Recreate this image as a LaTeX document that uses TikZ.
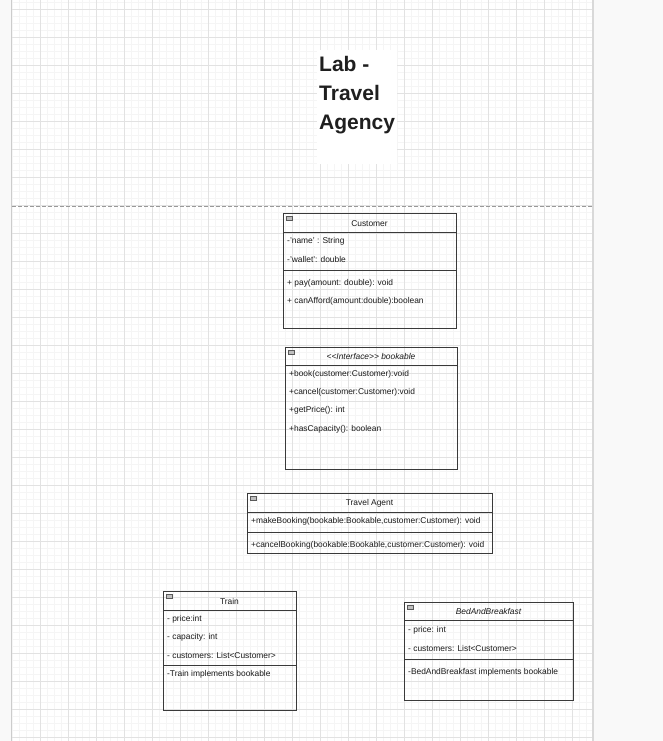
\documentclass[tikz,border=0pt]{standalone}
\usepackage{fontspec}
\setmainfont{Liberation Sans}
\usetikzlibrary{calc}
\definecolor{margin}{HTML}{F9F9F9}
\definecolor{gridminor}{HTML}{F5F5F5}
\definecolor{gridmajor}{HTML}{E2E2E2}
\definecolor{umlline}{HTML}{3A3A3A}
\tikzset{
	member/.style={anchor=west, inner sep=0pt, yshift=-0.8pt, text=black!90, font=\fontsize{8.4}{10}\selectfont},
	header/.style={inner sep=0pt, yshift=-0.8pt, text=black!90, font=\fontsize{8.4}{10}\selectfont},
	umlbox/.style={draw=umlline, line width=0.8pt},
	titletext/.style={anchor=base west, inner sep=0pt, text=black!88, font=\fontsize{21}{28}\selectfont\bfseries},
}
\def\foldicon(#1,#2){\draw[fill=black!25, draw=black!65, line width=0.6pt] ($(#1,#2)+(3,3)$) rectangle ($(#1,#2)+(9,7.5)$);}

\begin{document}
\begin{tikzpicture}[x=1pt,y=-1pt]
			%%%%% START %%%%%
			\useasboundingbox (0,0) rectangle (663,741);
			
			% page and margins
			\fill[white] (0,0) rectangle (663,741);
			\fill[margin] (0,0) rectangle (11.5,741);
			\fill[margin] (592.5,0) rectangle (663,741);
			\draw[black!20, line width=0.8pt] (11.5,0) -- (11.5,741);
			\draw[black!15, line width=1.2pt] (593,0) -- (593,741);
			
			% grid
			\foreach \gx in {12,19,...,592} \draw[gridminor, line width=0.6pt] (\gx,0) -- (\gx,741);
			\foreach \gy in {2,9,...,741} \draw[gridminor, line width=0.6pt] (12,\gy) -- (592,\gy);
			\foreach \gx in {40,68,...,592} \draw[gridmajor, line width=0.6pt] (\gx,0) -- (\gx,741);
			\foreach \gy in {9,37,...,741} \draw[gridmajor, line width=0.6pt] (12,\gy) -- (592,\gy);
			
			% page break
			\draw[black!40, line width=0.8pt, dash pattern=on 4pt off 2pt] (12,206) -- (592,206);
			
			% title
			\fill[white] (317,50) rectangle (397,164);
			\node[titletext] (title1) at (319,72) {Lab -};
			\node[titletext] (title2) at (319,101) {Travel};
			\node[titletext] (title3) at (319,129.5) {Agency};
			
			% Customer
			\draw[umlbox] (283,213) rectangle (456,328);
			\draw[umlbox] (283,232) -- (456,232);
			\draw[umlbox] (283,270.5) -- (456,270.5);
			\foldicon(283,213)
			\node[header] (customer) at (369.5,223) {Customer};
			\node[member] (customername) at (287,241) {-'name' : String};
			\node[member] (customerwallet) at (287,259) {-'wallet': double};
			\node[member] (customerpay) at (287,283) {+ pay(amount: double): void};
			\node[member] (customerafford) at (287,301) {+ canAfford(amount:double):boolean};
			
			% bookable
			\draw[umlbox] (285,347) rectangle (457,469);
			\draw[umlbox] (285,365.5) -- (457,365.5);
			\foldicon(285,347)
			\node[header, font=\fontsize{8.4}{10}\selectfont\itshape] (bookable) at (371,356) {<{}<Interface>{}> bookable};
			\node[member] (bookablebook) at (289,374) {+book(customer:Customer):void};
			\node[member] (bookablecancel) at (289,392) {+cancel(customer:Customer):void};
			\node[member] (bookableprice) at (289,410) {+getPrice(): int};
			\node[member] (bookablecapacity) at (289,429) {+hasCapacity(): boolean};
			
			% Travel Agent
			\draw[umlbox] (247,493) rectangle (492,553);
			\draw[umlbox] (247,512) -- (492,512);
			\draw[umlbox] (247,532) -- (492,532);
			\foldicon(247,493)
			\node[header] (agent) at (369.5,503) {Travel Agent};
			\node[member] (agentmake) at (251,521) {+makeBooking(bookable:Bookable,customer:Customer): void};
			\node[member] (agentcancel) at (251,545) {+cancelBooking(bookable:Bookable,customer:Customer): void};
			
			% Train
			\draw[umlbox] (163,591) rectangle (296,710);
			\draw[umlbox] (163,610) -- (296,610);
			\draw[umlbox] (163,665) -- (296,665);
			\foldicon(163,591)
			\node[header] (train) at (229.5,601) {Train};
			\node[member] (trainprice) at (167,619) {- price:int};
			\node[member] (traincapacity) at (167,637) {- capacity: int};
			\node[member] (traincustomers) at (167,655) {- customers: List<Customer>};
			\node[member] (trainimpl) at (167,674) {-Train implements bookable};
			
			% BedAndBreakfast
			\draw[umlbox] (404,602) rectangle (573,700);
			\draw[umlbox] (404,620.5) -- (573,620.5);
			\draw[umlbox] (404,659) -- (573,659);
			\foldicon(404,602)
			\node[header, font=\fontsize{8.4}{10}\selectfont\itshape] (bnb) at (488.5,611) {BedAndBreakfast};
			\node[member] (bnbprice) at (408,630) {- price: int};
			\node[member] (bnbcustomers) at (408,648) {- customers: List<Customer>};
			\node[member] (bnbimpl) at (408,672) {-BedAndBreakfast implements bookable};
			
			%%%%% END %%%%%
		\end{tikzpicture}
\end{document}
